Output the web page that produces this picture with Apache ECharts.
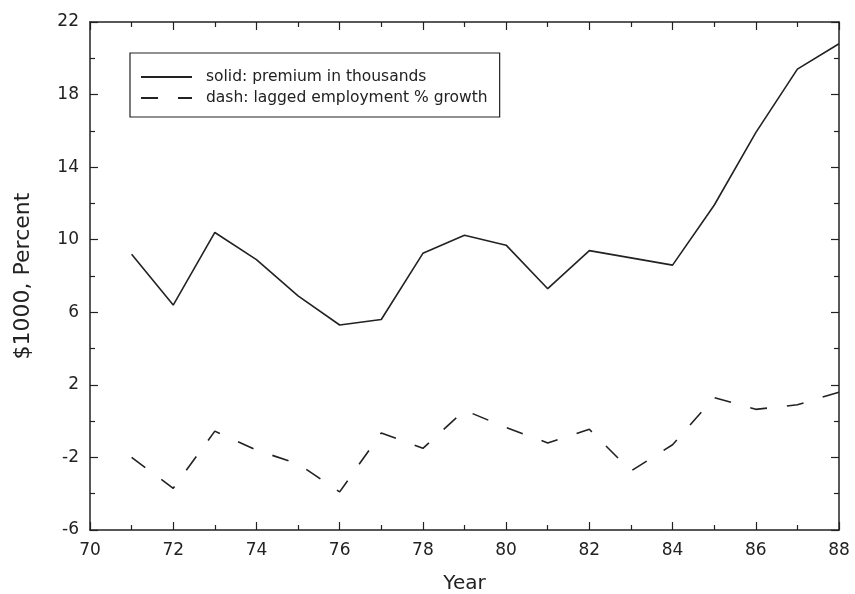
<!DOCTYPE html>
<html>
<head>
<meta charset="utf-8">
<script src="https://cdn.jsdelivr.net/npm/echarts@6/dist/echarts.min.js"></script>
<style>
    html, body { margin: 0; padding: 0; background: #fff; }
    #chart { width: 855px; height: 594px; }
</style>
</head>
<body>
<div id="chart"></div>
<script>
    // years on the x axis
    const years = [71, 72, 73, 74, 75, 76, 77, 78, 79, 80, 81, 82, 83, 84, 85, 86, 87, 88];
    // solid: premium in thousands
    const premium = [9.2, 6.4, 10.4, 8.9, 6.9, 5.3, 5.6, 9.25, 10.25, 9.7, 7.3, 9.4, 9.0, 8.6, 11.9, 15.9, 19.4, 20.8];
    // dash: lagged employment % growth
    const empGrowth = [-2.0, -3.7, -0.55, -1.6, -2.35, -3.9, -0.65, -1.5, 0.6, -0.35, -1.2, -0.45, -2.75, -1.3, 1.3, 0.65, 0.9, 1.6];

    const solidName = 'solid: premium in thousands';
    const dashName = 'dash: lagged employment % growth';

    const ink = '#222';
    const font = 'DejaVu Sans';

    const toPairs = (vals) => years.map((y, i) => [y, vals[i]]);

    const chart = echarts.init(document.getElementById('chart'));

    const axisCommon = {
        axisLine: { show: true, onZero: false, lineStyle: { color: ink, width: 1.5 } },
        axisTick: { show: true, inside: true, length: 8, lineStyle: { color: ink, width: 1.2 } },
        minorTick: { show: true, splitNumber: 2, length: 5, lineStyle: { color: ink, width: 1.2 } },
        splitLine: { show: false }
    };

    chart.setOption({
        animation: false,
        backgroundColor: '#fff',
        textStyle: { fontFamily: font, color: ink },
        grid: { left: 90, right: 16, top: 22, bottom: 64, containLabel: false, outerBoundsMode: 'none' },
        legend: {
            orient: 'vertical',
            left: 130,
            top: 53,
            padding: [16, 12, 11, 10],
            itemWidth: 51,
            itemHeight: 16,
            itemGap: 5,
            borderColor: ink,
            borderWidth: 1.2,
            data: [solidName, dashName],
            itemStyle: { color: 'transparent', borderColor: 'transparent', borderWidth: 0, opacity: 0 },
            textStyle: { fontFamily: font, fontSize: 15.5, lineHeight: 16, color: ink, padding: [0, 0, 0, 9] }
        },
        xAxis: [
            Object.assign({
                type: 'value', min: 70, max: 88, interval: 2, position: 'bottom',
                name: 'Year', nameLocation: 'middle', nameGap: 44,
                nameTextStyle: { fontSize: 20, color: ink, fontFamily: font },
                axisLabel: { fontSize: 17, color: ink, margin: 12, fontFamily: font }
            }, axisCommon),
            Object.assign({
                type: 'value', min: 70, max: 88, interval: 2, position: 'top',
                axisLabel: { show: false }
            }, axisCommon)
        ],
        yAxis: [
            Object.assign({
                type: 'value', min: -6, max: 22, interval: 4, position: 'left',
                name: '$1000, Percent', nameLocation: 'middle', nameGap: 56,
                nameTextStyle: { fontSize: 22, color: ink, fontFamily: font },
                axisLabel: { fontSize: 17, color: ink, margin: 11, fontFamily: font }
            }, axisCommon),
            Object.assign({
                type: 'value', min: -6, max: 22, interval: 4, position: 'right',
                axisLabel: { show: false }
            }, axisCommon)
        ],
        series: [
            {
                name: solidName,
                type: 'line',
                data: toPairs(premium),
                symbol: 'none',
                lineStyle: { color: ink, width: 1.6 },
                itemStyle: { color: ink }
            },
            {
                name: dashName,
                type: 'line',
                data: toPairs(empGrowth),
                symbol: 'none',
                lineStyle: { color: ink, width: 1.6, type: [17, 20] },
                itemStyle: { color: ink }
            }
        ]
    });
</script>
</body>
</html>
